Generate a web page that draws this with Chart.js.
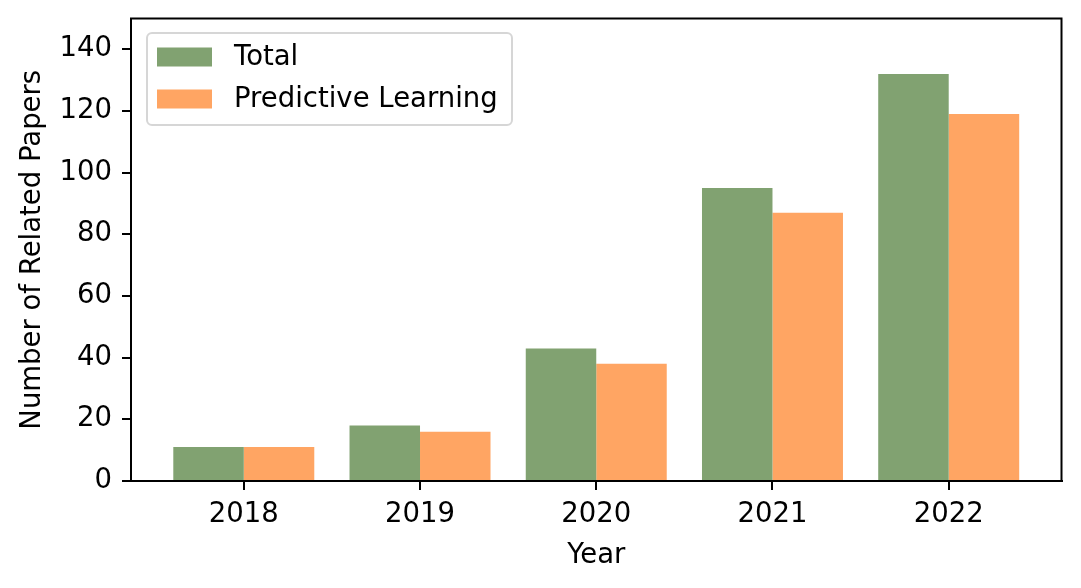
<!DOCTYPE html>
<html>
<head>
<meta charset="utf-8">
<script src="https://cdn.jsdelivr.net/npm/chart.js@4/dist/chart.umd.min.js"></script>
<style>
html,body{margin:0;padding:0;background:#fff;}
#wrap{width:1081px;height:588px;}
</style>
</head>
<body>
<div id="wrap"><canvas id="c" width="1081" height="588"></canvas></div>
<script>
const years = ['2018', '2019', '2020', '2021', '2022'];
const totalPapers = [11, 18, 43, 95, 132];
const predictivePapers = [11, 16, 38, 87, 119];
const yTicks = [0, 20, 40, 60, 80, 100, 120, 140];
const seriesNames = ['Total', 'Predictive Learning'];
const seriesColors = ['#81a271', '#ffa563'];

const FONT = 'DejaVu Sans';
const FS = 27.5;

const framePlugin = {
  id: 'frame',
  afterDraw(chart) {
    const {ctx, chartArea: a} = chart;
    ctx.save();
    ctx.strokeStyle = '#000';
    ctx.lineWidth = 2;
    ctx.strokeRect(a.left, a.top, a.right - a.left, a.bottom - a.top);
    ctx.restore();
  }
};

const legendPlugin = {
  id: 'boxLegend',
  afterDraw(chart) {
    const {ctx} = chart;
    const x = 147, y = 33, w = 365, h = 92, r = 5;
    ctx.save();
    ctx.fillStyle = 'rgba(255,255,255,0.8)';
    ctx.strokeStyle = '#d6d6d6';
    ctx.lineWidth = 2;
    ctx.beginPath();
    ctx.roundRect(x, y, w, h, r);
    ctx.fill();
    ctx.stroke();
    ctx.font = FS + 'px "' + FONT + '"';
    ctx.textBaseline = 'middle';
    chart.data.datasets.forEach((ds, i) => {
      const cy = 57 + i * 42;
      ctx.fillStyle = ds.backgroundColor;
      ctx.fillRect(157, cy - 9.5, 55, 19);
      ctx.fillStyle = '#000';
      ctx.fillText(ds.label, 234, cy + 1);
    });
    ctx.restore();
  }
};

const toPoints = arr => arr.map((v, i) => ({x: i, y: v}));

new Chart(document.getElementById('c'), {
  type: 'bar',
  data: {
    datasets: [
      {label: seriesNames[0], data: toPoints(totalPapers), backgroundColor: seriesColors[0], borderWidth: 0},
      {label: seriesNames[1], data: toPoints(predictivePapers), backgroundColor: seriesColors[1], borderWidth: 0}
    ]
  },
  options: {
    responsive: false,
    animation: false,
    devicePixelRatio: 1,
    categoryPercentage: 0.8,
    barPercentage: 1.0,
    layout: {padding: {top: 18.5, right: 19.5, left: 0, bottom: 0}},
    plugins: {legend: {display: false}, tooltip: {enabled: false}},
    scales: {
      x: {
        type: 'linear',
        min: -0.64,
        max: 4.64,
        offset: false,
        afterBuildTicks: s => { s.ticks = years.map((_, i) => ({value: i})); },
        afterFit: s => { s.height = 107; s.paddingLeft = 0; s.paddingRight = 0; },
        ticks: {
          callback: v => years[v],
          color: '#000',
          font: {family: FONT, size: FS},
          padding: 8,
          maxRotation: 0,
          autoSkip: false
        },
        grid: {display: true, offset: false, drawOnChartArea: false, drawTicks: true, tickLength: 9, color: '#000', lineWidth: 2},
        border: {display: true, color: '#000', width: 2},
        title: {display: true, text: 'Year', color: '#000', font: {family: FONT, size: FS}, padding: {top: 16, bottom: 16}}
      },
      y: {
        type: 'linear',
        min: 0,
        max: 150,
        afterBuildTicks: s => { s.ticks = yTicks.map(v => ({value: v})); },
        afterFit: s => { s.width = 131; s.paddingTop = 0; s.paddingBottom = 0; },
        ticks: {
          color: '#000',
          font: {family: FONT, size: FS},
          padding: 10
        },
        grid: {display: true, offset: false, drawOnChartArea: false, drawTicks: true, tickLength: 9, color: '#000', lineWidth: 2},
        border: {display: true, color: '#000', width: 2},
        title: {display: true, text: 'Number of Related Papers', color: '#000', font: {family: FONT, size: FS}, padding: {top: 16, bottom: 16}}
      }
    }
  },
  plugins: [framePlugin, legendPlugin]
});
</script>
</body>
</html>
